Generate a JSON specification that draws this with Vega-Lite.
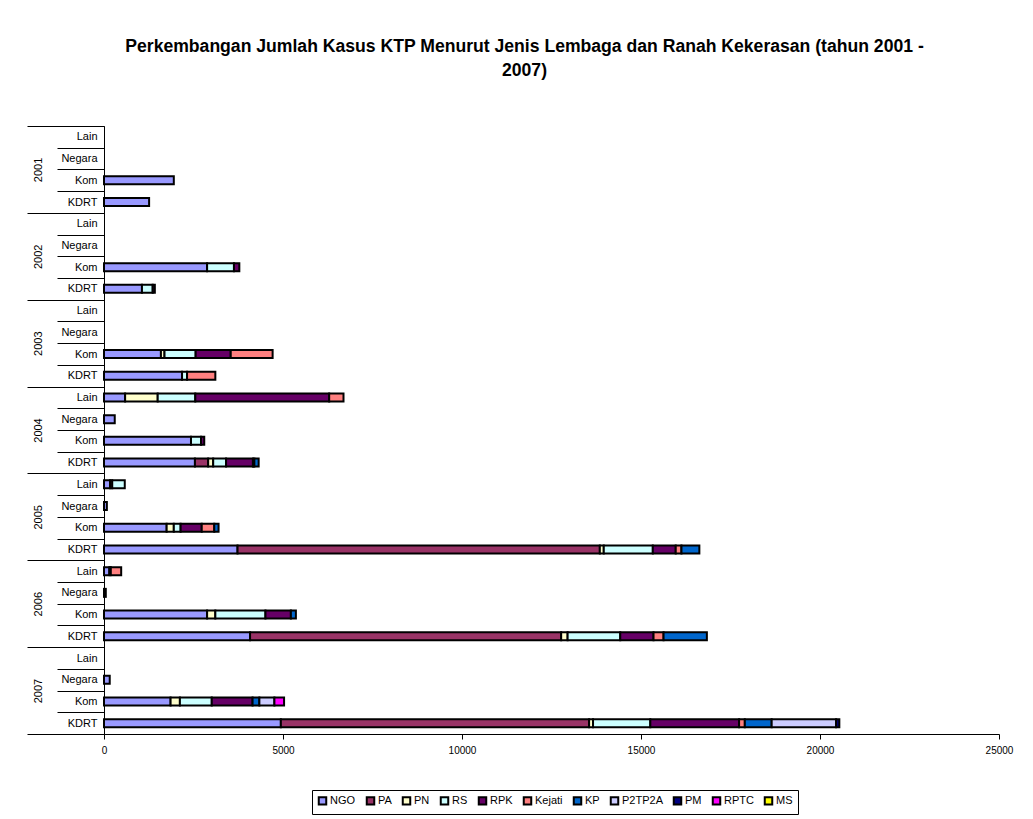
{
  "$schema": "https://vega.github.io/schema/vega-lite/v6.json",
  "width": 895,
  "height": 608,
  "autosize": {"type": "none"},
  "padding": {"left": 104, "top": 126, "right": 34, "bottom": 85},
  "background": "white",
  "config": {"view": {"stroke": null}, "font": "Liberation Sans"},
  "title": {
    "text": ["Perkembangan Jumlah Kasus KTP Menurut Jenis Lembaga dan Ranah Kekerasan (tahun 2001 -", "2007)"],
    "font": "Liberation Sans",
    "fontSize": 17.6,
    "fontWeight": "bold",
    "lineHeight": 24,
    "anchor": "middle",
    "offset": 40,
    "dx": -27,
    "color": "black"
  },
  "datasets": {
    "kasus": [
      {"baris": "2001 Kom", "lembaga": "NGO", "jumlah": 1950},
      {"baris": "2001 KDRT", "lembaga": "NGO", "jumlah": 1260},
      {"baris": "2002 Kom", "lembaga": "NGO", "jumlah": 2880},
      {"baris": "2002 Kom", "lembaga": "RS", "jumlah": 750},
      {"baris": "2002 Kom", "lembaga": "RPK", "jumlah": 150},
      {"baris": "2002 KDRT", "lembaga": "NGO", "jumlah": 1060},
      {"baris": "2002 KDRT", "lembaga": "RS", "jumlah": 300},
      {"baris": "2002 KDRT", "lembaga": "RPK", "jumlah": 60},
      {"baris": "2003 Kom", "lembaga": "NGO", "jumlah": 1590},
      {"baris": "2003 Kom", "lembaga": "PN", "jumlah": 100},
      {"baris": "2003 Kom", "lembaga": "RS", "jumlah": 870},
      {"baris": "2003 Kom", "lembaga": "RPK", "jumlah": 980},
      {"baris": "2003 Kom", "lembaga": "Kejati", "jumlah": 1170},
      {"baris": "2003 KDRT", "lembaga": "NGO", "jumlah": 2180},
      {"baris": "2003 KDRT", "lembaga": "RS", "jumlah": 140},
      {"baris": "2003 KDRT", "lembaga": "Kejati", "jumlah": 790},
      {"baris": "2004 Lain", "lembaga": "NGO", "jumlah": 590},
      {"baris": "2004 Lain", "lembaga": "PN", "jumlah": 910},
      {"baris": "2004 Lain", "lembaga": "RS", "jumlah": 1050},
      {"baris": "2004 Lain", "lembaga": "RPK", "jumlah": 3740},
      {"baris": "2004 Lain", "lembaga": "Kejati", "jumlah": 400},
      {"baris": "2004 Negara", "lembaga": "NGO", "jumlah": 300},
      {"baris": "2004 Kom", "lembaga": "NGO", "jumlah": 2430},
      {"baris": "2004 Kom", "lembaga": "RS", "jumlah": 280},
      {"baris": "2004 Kom", "lembaga": "RPK", "jumlah": 90},
      {"baris": "2004 KDRT", "lembaga": "NGO", "jumlah": 2540},
      {"baris": "2004 KDRT", "lembaga": "PA", "jumlah": 370},
      {"baris": "2004 KDRT", "lembaga": "PN", "jumlah": 140},
      {"baris": "2004 KDRT", "lembaga": "RS", "jumlah": 360},
      {"baris": "2004 KDRT", "lembaga": "RPK", "jumlah": 750},
      {"baris": "2004 KDRT", "lembaga": "Kejati", "jumlah": 40},
      {"baris": "2004 KDRT", "lembaga": "KP", "jumlah": 120},
      {"baris": "2005 Lain", "lembaga": "NGO", "jumlah": 170},
      {"baris": "2005 Lain", "lembaga": "PN", "jumlah": 60},
      {"baris": "2005 Lain", "lembaga": "RS", "jumlah": 350},
      {"baris": "2005 Negara", "lembaga": "NGO", "jumlah": 80},
      {"baris": "2005 Kom", "lembaga": "NGO", "jumlah": 1750},
      {"baris": "2005 Kom", "lembaga": "PN", "jumlah": 200},
      {"baris": "2005 Kom", "lembaga": "RS", "jumlah": 190},
      {"baris": "2005 Kom", "lembaga": "RPK", "jumlah": 590},
      {"baris": "2005 Kom", "lembaga": "Kejati", "jumlah": 350},
      {"baris": "2005 Kom", "lembaga": "KP", "jumlah": 120},
      {"baris": "2005 KDRT", "lembaga": "NGO", "jumlah": 3730},
      {"baris": "2005 KDRT", "lembaga": "PA", "jumlah": 10120},
      {"baris": "2005 KDRT", "lembaga": "PN", "jumlah": 110},
      {"baris": "2005 KDRT", "lembaga": "RS", "jumlah": 1370},
      {"baris": "2005 KDRT", "lembaga": "RPK", "jumlah": 640},
      {"baris": "2005 KDRT", "lembaga": "Kejati", "jumlah": 160},
      {"baris": "2005 KDRT", "lembaga": "KP", "jumlah": 500},
      {"baris": "2006 Lain", "lembaga": "NGO", "jumlah": 150},
      {"baris": "2006 Lain", "lembaga": "PN", "jumlah": 40},
      {"baris": "2006 Lain", "lembaga": "Kejati", "jumlah": 290},
      {"baris": "2006 Negara", "lembaga": "NGO", "jumlah": 50},
      {"baris": "2006 Kom", "lembaga": "NGO", "jumlah": 2880},
      {"baris": "2006 Kom", "lembaga": "PN", "jumlah": 230},
      {"baris": "2006 Kom", "lembaga": "RS", "jumlah": 1400},
      {"baris": "2006 Kom", "lembaga": "RPK", "jumlah": 710},
      {"baris": "2006 Kom", "lembaga": "KP", "jumlah": 140},
      {"baris": "2006 KDRT", "lembaga": "NGO", "jumlah": 4080},
      {"baris": "2006 KDRT", "lembaga": "PA", "jumlah": 8690},
      {"baris": "2006 KDRT", "lembaga": "PN", "jumlah": 180},
      {"baris": "2006 KDRT", "lembaga": "RS", "jumlah": 1470},
      {"baris": "2006 KDRT", "lembaga": "RPK", "jumlah": 930},
      {"baris": "2006 KDRT", "lembaga": "Kejati", "jumlah": 280},
      {"baris": "2006 KDRT", "lembaga": "KP", "jumlah": 1210},
      {"baris": "2007 Negara", "lembaga": "NGO", "jumlah": 160},
      {"baris": "2007 Kom", "lembaga": "NGO", "jumlah": 1860},
      {"baris": "2007 Kom", "lembaga": "PN", "jumlah": 260},
      {"baris": "2007 Kom", "lembaga": "RS", "jumlah": 890},
      {"baris": "2007 Kom", "lembaga": "RPK", "jumlah": 1140},
      {"baris": "2007 Kom", "lembaga": "KP", "jumlah": 190},
      {"baris": "2007 Kom", "lembaga": "P2TP2A", "jumlah": 420},
      {"baris": "2007 Kom", "lembaga": "RPTC", "jumlah": 270},
      {"baris": "2007 KDRT", "lembaga": "NGO", "jumlah": 4940},
      {"baris": "2007 KDRT", "lembaga": "PA", "jumlah": 8610},
      {"baris": "2007 KDRT", "lembaga": "PN", "jumlah": 110},
      {"baris": "2007 KDRT", "lembaga": "RS", "jumlah": 1600},
      {"baris": "2007 KDRT", "lembaga": "RPK", "jumlah": 2480},
      {"baris": "2007 KDRT", "lembaga": "Kejati", "jumlah": 160},
      {"baris": "2007 KDRT", "lembaga": "KP", "jumlah": 750},
      {"baris": "2007 KDRT", "lembaga": "P2TP2A", "jumlah": 1800},
      {"baris": "2007 KDRT", "lembaga": "PM", "jumlah": 90}
    ],
    "tahun": [
      {"tahun": "2001"}, {"tahun": "2002"}, {"tahun": "2003"}, {"tahun": "2004"},
      {"tahun": "2005"}, {"tahun": "2006"}, {"tahun": "2007"}
    ]
  },
  "layer": [
    {
      "data": {"name": "kasus"},
      "transform": [
        {
          "lookup": "lembaga",
          "from": {
            "data": {
              "values": [
                {"lembaga": "NGO", "urut": 1},
                {"lembaga": "PA", "urut": 2},
                {"lembaga": "PN", "urut": 3},
                {"lembaga": "RS", "urut": 4},
                {"lembaga": "RPK", "urut": 5},
                {"lembaga": "Kejati", "urut": 6},
                {"lembaga": "KP", "urut": 7},
                {"lembaga": "P2TP2A", "urut": 8},
                {"lembaga": "PM", "urut": 9},
                {"lembaga": "RPTC", "urut": 10},
                {"lembaga": "MS", "urut": 11}
              ]
            },
            "key": "lembaga",
            "fields": ["urut"]
          }
        }
      ],
      "mark": {"type": "bar", "size": 8, "stroke": "black", "strokeWidth": 2},
      "encoding": {
        "y": {
          "field": "baris",
          "type": "nominal",
          "scale": {
            "type": "band",
            "paddingInner": 0,
            "paddingOuter": 0,
            "domain": [
              "2001 Lain", "2001 Negara", "2001 Kom", "2001 KDRT",
              "2002 Lain", "2002 Negara", "2002 Kom", "2002 KDRT",
              "2003 Lain", "2003 Negara", "2003 Kom", "2003 KDRT",
              "2004 Lain", "2004 Negara", "2004 Kom", "2004 KDRT",
              "2005 Lain", "2005 Negara", "2005 Kom", "2005 KDRT",
              "2006 Lain", "2006 Negara", "2006 Kom", "2006 KDRT",
              "2007 Lain", "2007 Negara", "2007 Kom", "2007 KDRT"
            ]
          },
          "axis": {
            "orient": "left",
            "title": null,
            "labelExpr": "split(datum.label, ' ')[1]",
            "tickBand": "extent",
            "tickSize": 47,
            "tickColor": "black",
            "tickWidth": 1,
            "labelPadding": -40,
            "labelAlign": "right",
            "labelBaseline": "middle",
            "labelFont": "Liberation Sans",
            "labelFontSize": 11,
            "labelColor": "black",
            "labelOverlap": false,
            "labelBound": false,
            "domainColor": "black",
            "domainWidth": 1
          }
        },
        "x": {
          "field": "jumlah",
          "type": "quantitative",
          "stack": "zero",
          "scale": {"domain": [0, 25000], "nice": false},
          "axis": {
            "title": null,
            "values": [0, 5000, 10000, 15000, 20000, 25000],
            "format": "d",
            "grid": false,
            "tickSize": 5,
            "tickColor": "black",
            "domainColor": "black",
            "labelFont": "Liberation Sans",
            "labelFontSize": 10,
            "labelColor": "black",
            "labelPadding": 6,
            "labelFlush": false
          }
        },
        "color": {
          "field": "lembaga",
          "type": "nominal",
          "scale": {
            "domain": ["NGO", "PA", "PN", "RS", "RPK", "Kejati", "KP", "P2TP2A", "PM", "RPTC", "MS"],
            "range": ["#9999FF", "#993366", "#FFFFCC", "#CCFFFF", "#660066", "#FF8080", "#0066CC", "#CCCCFF", "#000080", "#FF00FF", "#FFFF00"]
          },
          "legend": {
            "orient": "none",
            "legendX": 208,
            "legendY": 664,
            "direction": "horizontal",
            "title": null,
            "symbolType": "square",
            "symbolSize": 56,
            "symbolStrokeColor": "black",
            "symbolStrokeWidth": 2,
            "symbolOpacity": 1,
            "labelFont": "Liberation Sans",
            "labelFontSize": 11,
            "labelColor": "black",
            "labelOffset": 2,
            "columnPadding": 6,
            "strokeColor": "black",
            "fillColor": "white",
            "padding": 5
          }
        },
        "order": {"field": "urut", "type": "quantitative", "sort": "ascending"}
      }
    },
    {
      "data": {"name": "tahun"},
      "mark": {"type": "point", "opacity": 0},
      "encoding": {
        "y": {
          "field": "tahun",
          "type": "nominal",
          "scale": {
            "type": "band",
            "paddingInner": 0,
            "paddingOuter": 0,
            "domain": ["2001", "2002", "2003", "2004", "2005", "2006", "2007"]
          },
          "axis": {
            "orient": "left",
            "title": null,
            "domain": false,
            "tickBand": "extent",
            "tickSize": 77,
            "tickColor": "black",
            "tickWidth": 1,
            "labelAngle": 270,
            "labelAlign": "center",
            "labelBaseline": "middle",
            "labelPadding": -11,
            "labelFont": "Liberation Sans",
            "labelFontSize": 11,
            "labelColor": "black",
            "labelOverlap": false,
            "labelBound": false
          }
        }
      }
    }
  ],
  "resolve": {"scale": {"y": "independent"}, "axis": {"y": "independent"}}
}
